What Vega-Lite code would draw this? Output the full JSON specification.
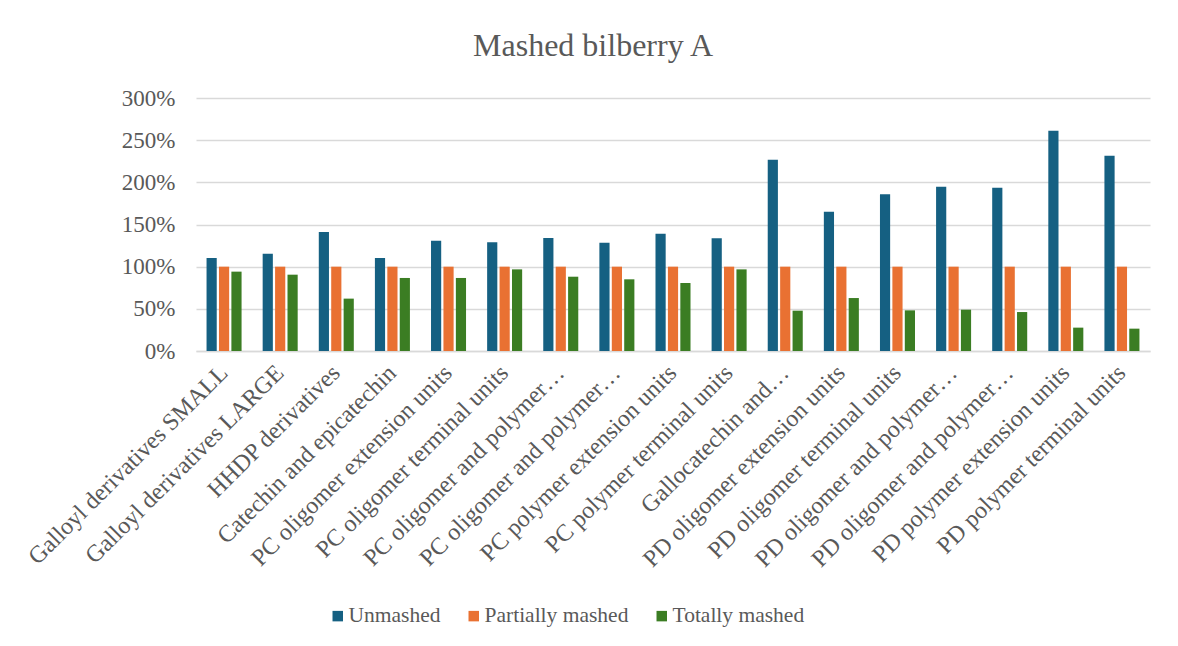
{
  "$schema": "https://vega.github.io/schema/vega-lite/v6.json",
  "width": 954,
  "height": 253,
  "autosize": {"type": "none"},
  "padding": {"left": 196, "top": 98, "right": 28, "bottom": 295},
  "background": "white",
  "title": {
    "text": "Mashed bilberry A",
    "font": "Liberation Serif",
    "fontSize": 32,
    "fontWeight": "normal",
    "color": "#595959",
    "anchor": "middle",
    "frame": "group",
    "dx": -80,
    "baseline": "alphabetic",
    "offset": -1
  },
  "data": {
    "values": [
      {"category": "Galloyl derivatives SMALL", "series": "Unmashed", "value": 1.103},
      {"category": "Galloyl derivatives SMALL", "series": "Partially mashed", "value": 1.0},
      {"category": "Galloyl derivatives SMALL", "series": "Totally mashed", "value": 0.941},
      {"category": "Galloyl derivatives LARGE", "series": "Unmashed", "value": 1.154},
      {"category": "Galloyl derivatives LARGE", "series": "Partially mashed", "value": 1.0},
      {"category": "Galloyl derivatives LARGE", "series": "Totally mashed", "value": 0.905},
      {"category": "HHDP derivatives", "series": "Unmashed", "value": 1.411},
      {"category": "HHDP derivatives", "series": "Partially mashed", "value": 1.0},
      {"category": "HHDP derivatives", "series": "Totally mashed", "value": 0.621},
      {"category": "Catechin and epicatechin", "series": "Unmashed", "value": 1.103},
      {"category": "Catechin and epicatechin", "series": "Partially mashed", "value": 1.0},
      {"category": "Catechin and epicatechin", "series": "Totally mashed", "value": 0.866},
      {"category": "PC oligomer extension units", "series": "Unmashed", "value": 1.308},
      {"category": "PC oligomer extension units", "series": "Partially mashed", "value": 1.0},
      {"category": "PC oligomer extension units", "series": "Totally mashed", "value": 0.866},
      {"category": "PC oligomer terminal units", "series": "Unmashed", "value": 1.289},
      {"category": "PC oligomer terminal units", "series": "Partially mashed", "value": 1.0},
      {"category": "PC oligomer terminal units", "series": "Totally mashed", "value": 0.968},
      {"category": "PC oligomer and polymer extension units", "series": "Unmashed", "value": 1.34},
      {"category": "PC oligomer and polymer extension units", "series": "Partially mashed", "value": 1.0},
      {"category": "PC oligomer and polymer extension units", "series": "Totally mashed", "value": 0.881},
      {"category": "PC oligomer and polymer terminal units", "series": "Unmashed", "value": 1.285},
      {"category": "PC oligomer and polymer terminal units", "series": "Partially mashed", "value": 1.0},
      {"category": "PC oligomer and polymer terminal units", "series": "Totally mashed", "value": 0.85},
      {"category": "PC polymer extension units", "series": "Unmashed", "value": 1.391},
      {"category": "PC polymer extension units", "series": "Partially mashed", "value": 1.0},
      {"category": "PC polymer extension units", "series": "Totally mashed", "value": 0.806},
      {"category": "PC polymer terminal units", "series": "Unmashed", "value": 1.336},
      {"category": "PC polymer terminal units", "series": "Partially mashed", "value": 1.0},
      {"category": "PC polymer terminal units", "series": "Totally mashed", "value": 0.968},
      {"category": "Gallocatechin and epigallocatechin", "series": "Unmashed", "value": 2.269},
      {"category": "Gallocatechin and epigallocatechin", "series": "Partially mashed", "value": 1.0},
      {"category": "Gallocatechin and epigallocatechin", "series": "Totally mashed", "value": 0.478},
      {"category": "PD oligomer extension units", "series": "Unmashed", "value": 1.652},
      {"category": "PD oligomer extension units", "series": "Partially mashed", "value": 1.0},
      {"category": "PD oligomer extension units", "series": "Totally mashed", "value": 0.628},
      {"category": "PD oligomer terminal units", "series": "Unmashed", "value": 1.858},
      {"category": "PD oligomer terminal units", "series": "Partially mashed", "value": 1.0},
      {"category": "PD oligomer terminal units", "series": "Totally mashed", "value": 0.482},
      {"category": "PD oligomer and polymer extension units", "series": "Unmashed", "value": 1.949},
      {"category": "PD oligomer and polymer extension units", "series": "Partially mashed", "value": 1.0},
      {"category": "PD oligomer and polymer extension units", "series": "Totally mashed", "value": 0.49},
      {"category": "PD oligomer and polymer terminal units", "series": "Unmashed", "value": 1.937},
      {"category": "PD oligomer and polymer terminal units", "series": "Partially mashed", "value": 1.0},
      {"category": "PD oligomer and polymer terminal units", "series": "Totally mashed", "value": 0.462},
      {"category": "PD polymer extension units", "series": "Unmashed", "value": 2.613},
      {"category": "PD polymer extension units", "series": "Partially mashed", "value": 1.0},
      {"category": "PD polymer extension units", "series": "Totally mashed", "value": 0.277},
      {"category": "PD polymer terminal units", "series": "Unmashed", "value": 2.316},
      {"category": "PD polymer terminal units", "series": "Partially mashed", "value": 1.0},
      {"category": "PD polymer terminal units", "series": "Totally mashed", "value": 0.265}
    ]
  },
  "mark": {"type": "bar"},
  "encoding": {
    "x": {
      "field": "category",
      "type": "nominal",
      "sort": null,
      "scale": {"paddingInner": 0.376, "paddingOuter": 0.188},
      "axis": {
        "title": null,
        "labelAngle": -45,
        "labelAlign": "right",
        "labelBaseline": "middle",
        "labelPadding": 18,
        "labelFontSize": 24,
        "labelColor": "#595959",
        "labelLimit": 0,
        "labelOverlap": false,
        "ticks": false,
        "domain": true,
        "domainColor": "#d9d9d9",
        "domainWidth": 1.3,
        "labelExpr": "datum.value == 'Gallocatechin and epigallocatechin' ? 'Gallocatechin and…' : (indexof(datum.value, 'oligomer and polymer') > 0 ? substring(datum.value, 0, 23) + '…' : datum.value)"
      }
    },
    "xOffset": {
      "field": "series",
      "type": "nominal",
      "sort": ["Unmashed", "Partially mashed", "Totally mashed"],
      "scale": {"paddingInner": 0.18, "paddingOuter": 0}
    },
    "y": {
      "field": "value",
      "type": "quantitative",
      "scale": {"domain": [0, 3], "nice": false},
      "axis": {
        "title": null,
        "values": [0, 0.5, 1, 1.5, 2, 2.5, 3],
        "format": ".0%",
        "labelFontSize": 23,
        "labelColor": "#595959",
        "labelPadding": 21,
        "ticks": false,
        "domain": false,
        "grid": true,
        "gridColor": "#d9d9d9",
        "gridWidth": 1.3
      }
    },
    "color": {
      "field": "series",
      "type": "nominal",
      "sort": ["Unmashed", "Partially mashed", "Totally mashed"],
      "scale": {
        "domain": ["Unmashed", "Partially mashed", "Totally mashed"],
        "range": ["#156082", "#E97132", "#3B7D23"]
      },
      "legend": {
        "title": null,
        "orient": "none",
        "direction": "horizontal",
        "legendX": 131,
        "legendY": 507,
        "symbolType": "square",
        "symbolSize": 110,
        "symbolStrokeWidth": 0,
        "labelFontSize": 21.5,
        "labelColor": "#595959",
        "labelOffset": 0,
        "columnPadding": 22,
        "labelLimit": 0
      }
    }
  },
  "config": {
    "font": "Liberation Serif",
    "axis": {"labelFont": "Liberation Serif"},
    "legend": {"labelFont": "Liberation Serif"},
    "view": {"stroke": null}
  }
}
